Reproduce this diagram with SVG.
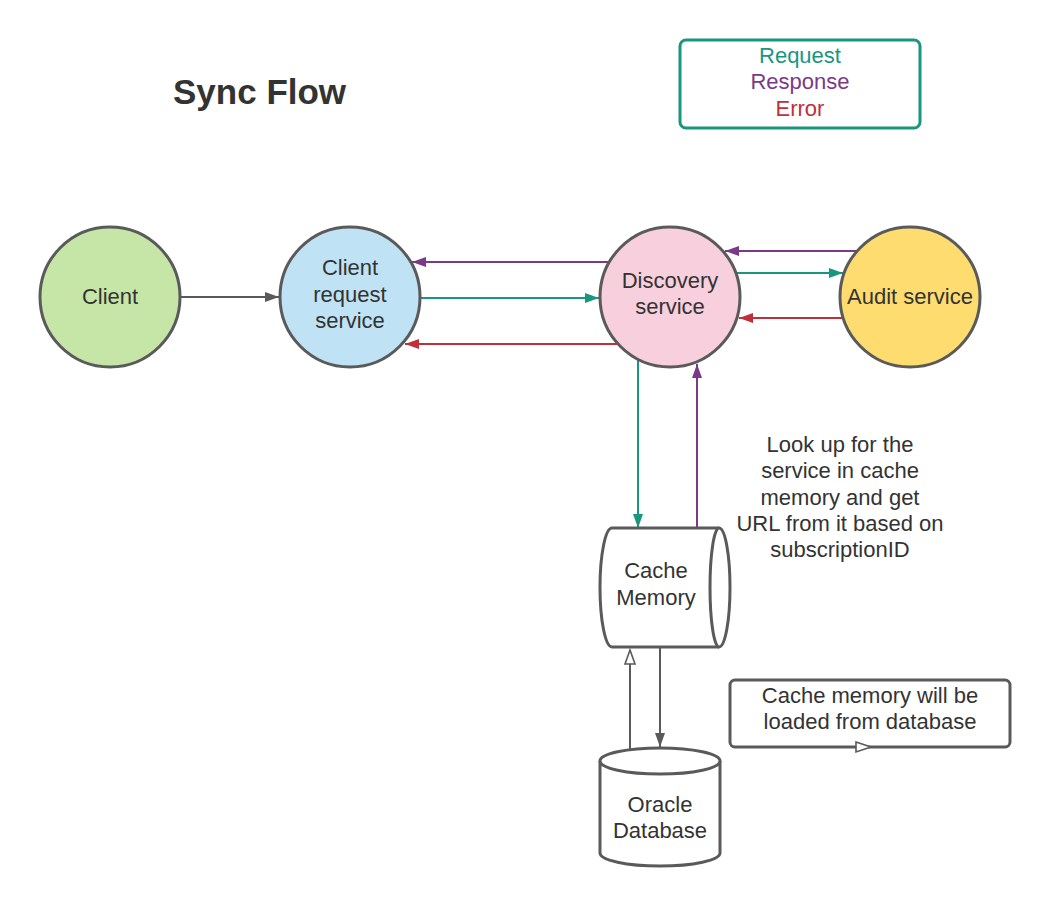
<svg xmlns="http://www.w3.org/2000/svg" width="1050" height="908" viewBox="0 0 1050 908">
<style>
  text { font-family: "Liberation Sans", Arial, sans-serif; font-size: 22px; fill: #333333; text-anchor: middle; }
  .title { font-size: 35px; font-weight: bold; text-anchor: start; }
  .node { stroke: #5a5a5a; stroke-width: 3; }
  .shape { fill: #ffffff; stroke: #5a5a5a; stroke-width: 3; stroke-linejoin: round; }
  .c { fill: none; stroke-width: 2; }
  .grey { stroke: #5a5a5a; }
  .teal { stroke: #1a967e; }
  .purple { stroke: #7b3a88; }
  .red { stroke: #c0303a; }
</style>
<defs>
  <marker id="ag" markerUnits="userSpaceOnUse" markerWidth="16" markerHeight="12" refX="15" refY="6" orient="auto"><path d="M1,1 L15,6 L1,11 Z" fill="#5a5a5a"/></marker>
  <marker id="at" markerUnits="userSpaceOnUse" markerWidth="16" markerHeight="12" refX="15" refY="6" orient="auto"><path d="M1,1 L15,6 L1,11 Z" fill="#1a967e"/></marker>
  <marker id="ap" markerUnits="userSpaceOnUse" markerWidth="16" markerHeight="12" refX="15" refY="6" orient="auto"><path d="M1,1 L15,6 L1,11 Z" fill="#7b3a88"/></marker>
  <marker id="ar" markerUnits="userSpaceOnUse" markerWidth="16" markerHeight="12" refX="15" refY="6" orient="auto"><path d="M1,1 L15,6 L1,11 Z" fill="#c0303a"/></marker>
  <marker id="ah" markerUnits="userSpaceOnUse" markerWidth="18" markerHeight="14" refX="16" refY="7" orient="auto"><path d="M2,2 L16,7 L2,12 Z" fill="#ffffff" stroke="#5a5a5a" stroke-width="1.6"/></marker>
</defs>
<rect width="1050" height="908" fill="#ffffff"/>

<g id="title"><text class="title" x="173" y="104">Sync Flow</text></g>

<g id="legend">
  <rect x="680" y="40" width="240" height="88" rx="6" fill="#ffffff" stroke="#1a967e" stroke-width="3"/>
  <text x="800" y="63" style="fill:#1a967e">Request</text>
  <text x="800" y="89" style="fill:#7b3a88">Response</text>
  <text x="800" y="116" style="fill:#c0303a">Error</text>
</g>

<g id="connectors">
  <path class="c grey" d="M181,297 L279,297" marker-end="url(#ag)"/>
  <path class="c purple" d="M608,262 L412,262" marker-end="url(#ap)"/>
  <path class="c teal" d="M421,298 L599,298" marker-end="url(#at)"/>
  <path class="c red" d="M617,344 L405,344" marker-end="url(#ar)"/>
  <path class="c purple" d="M856,251 L725,251" marker-end="url(#ap)"/>
  <path class="c teal" d="M737,273 L843,273" marker-end="url(#at)"/>
  <path class="c red" d="M842,318 L739,318" marker-end="url(#ar)"/>
  <path class="c teal" d="M638,360 L638,528" marker-end="url(#at)"/>
  <path class="c purple" d="M697,528 L697,364" marker-end="url(#ap)"/>
  <path class="c grey" d="M660,648 L660,747" marker-end="url(#ag)"/>
  <path class="c grey" d="M630,749 L630,650" marker-end="url(#ah)"/>
</g>

<g id="client">
  <circle class="node" cx="110" cy="297" r="70" fill="#c6e6a7"/>
  <text x="110" y="304">Client</text>
</g>

<g id="client-request-service">
  <circle class="node" cx="350" cy="297" r="70" fill="#bfe3f5"/>
  <text x="350" y="275">Client</text>
  <text x="350" y="302">request</text>
  <text x="350" y="328">service</text>
</g>

<g id="discovery-service">
  <circle class="node" cx="670" cy="297" r="70" fill="#f8cfdc"/>
  <text x="670" y="288">Discovery</text>
  <text x="670" y="314">service</text>
</g>

<g id="audit-service">
  <circle class="node" cx="910" cy="297" r="70" fill="#ffdc70"/>
  <text x="910" y="304">Audit service</text>
</g>

<g id="annotation">
  <text x="840" y="452">Look up for the</text>
  <text x="840" y="478">service in cache</text>
  <text x="840" y="505">memory and get</text>
  <text x="840" y="531">URL from it based on</text>
  <text x="840" y="557">subscriptionID</text>
</g>

<g id="cache-memory">
  <path class="shape" d="M612,528 L719,528 A11,59.5 0 0 1 719,647 L612,647 A12,59.5 0 0 1 612,528 Z"/>
  <path class="shape" fill="none" d="M719,528 A9,59.5 0 0 0 719,647"/>
  <text x="656" y="578">Cache</text>
  <text x="656" y="605">Memory</text>
</g>

<g id="oracle-database">
  <path class="shape" d="M600,761 A60,13 0 0 1 720,761 L720,853 A60,13 0 0 1 600,853 Z"/>
  <path class="shape" fill="none" d="M600,761 A60,13 0 0 0 720,761"/>
  <text x="660" y="812">Oracle</text>
  <text x="660" y="838">Database</text>
</g>

<g id="note">
  <rect class="shape" x="730" y="680" width="280" height="67" rx="5"/>
  <path d="M856,742 L871,747 L856,752 Z" fill="#ffffff" stroke="#5a5a5a" stroke-width="1.6"/>
  <text x="870" y="703">Cache memory will be</text>
  <text x="870" y="729">loaded from database</text>
</g>
</svg>
